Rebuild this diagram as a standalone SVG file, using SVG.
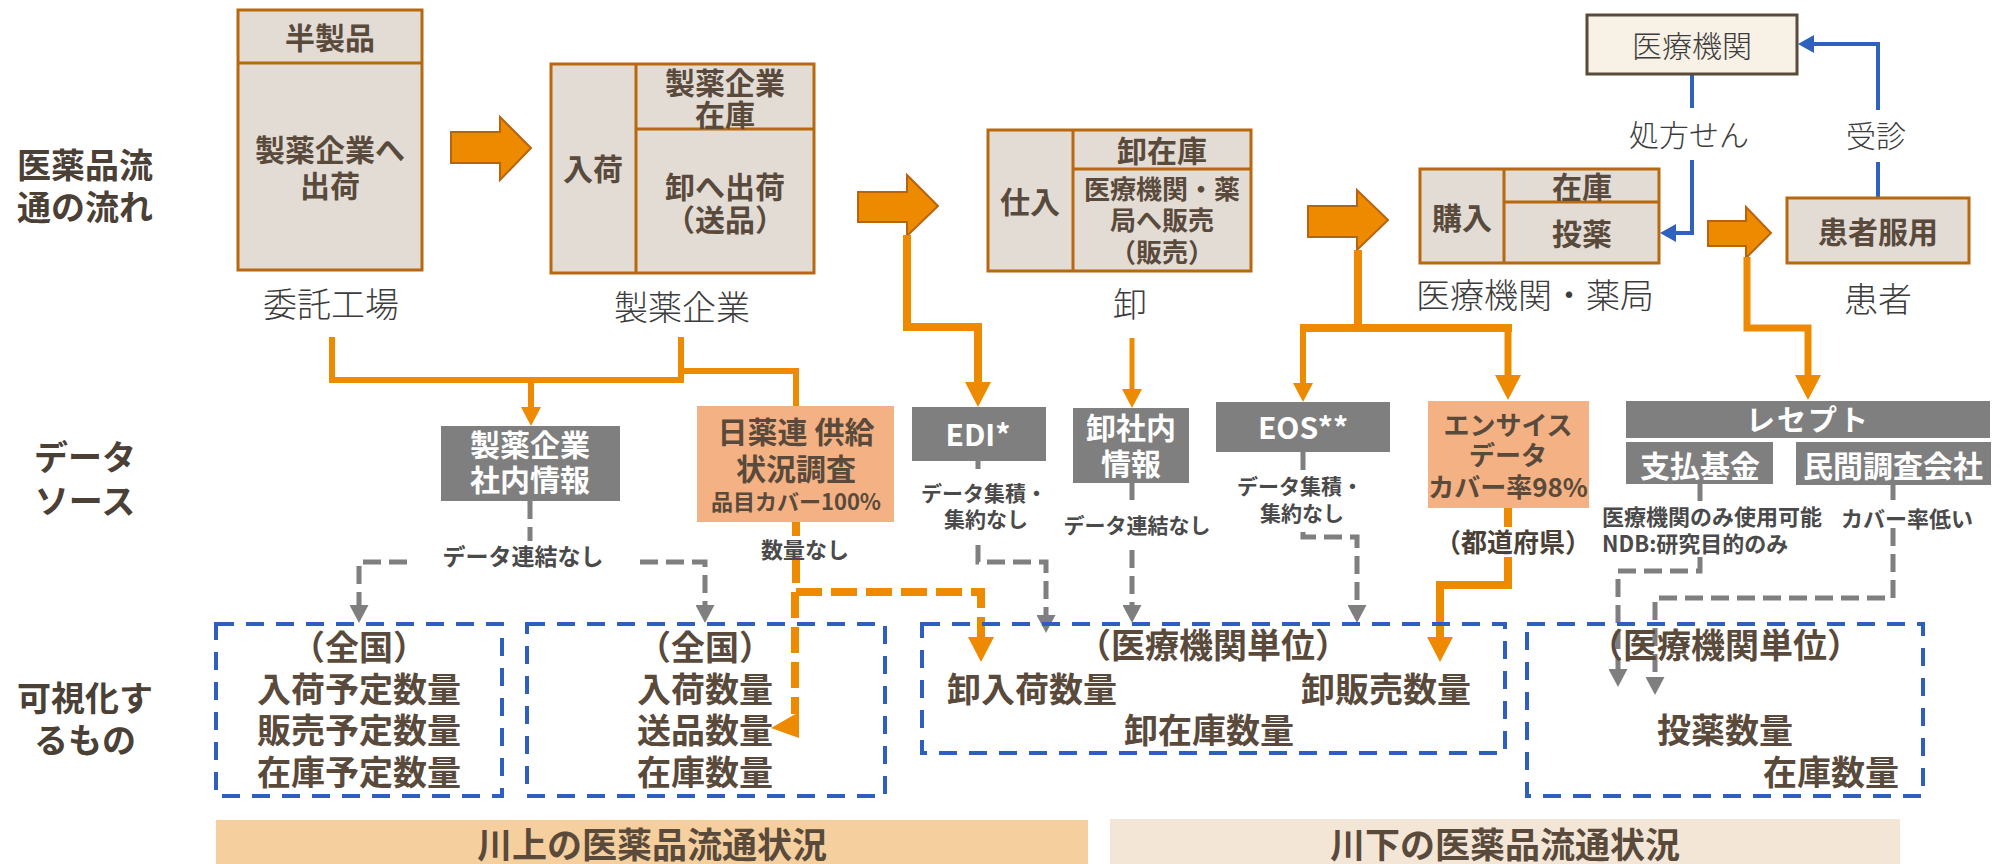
<svg xmlns="http://www.w3.org/2000/svg" width="2005" height="864" viewBox="0 0 2005 864">
<defs>
<style>
.t{font-family:'Noto Sans CJK JP','Noto Sans',sans-serif;text-anchor:middle;dominant-baseline:central;}
.t tspan{dominant-baseline:central;}
.bx{fill:#E2DCD5;stroke:#B8690F;stroke-width:3;}
.dv{stroke:#B8690F;stroke-width:3;}
.bt{font-size:30px;font-weight:700;fill:#594A3B;}
.bs{font-size:26px;font-weight:700;fill:#594A3B;}
.lbl{font-size:34px;font-weight:300;fill:#3C3C3C;}
.side{font-size:34px;font-weight:700;fill:#4A4036;}
.gb{fill:#7F7F7F;}
.ob{fill:#F4B183;}
.wt{fill:#FFFFFF;font-weight:700;font-size:30px;}
.note{font-weight:700;fill:#4A4A4A;}
.vb{fill:none;stroke:#2F5FBE;stroke-width:4;stroke-dasharray:18 12;}
.vt{font-size:34px;font-weight:700;fill:#594A3B;}
.arr{fill:#EE8A00;stroke:#B8640F;stroke-width:2;}
.ol{fill:none;stroke:#EE8A00;stroke-width:7;}
.od{fill:none;stroke:#EE8A00;stroke-width:8;stroke-dasharray:26 9;}
.gl{fill:none;stroke:#7F7F7F;stroke-width:5;stroke-dasharray:18 8;}
.bl{fill:none;stroke:#2F62BE;stroke-width:4;}
</style>
<marker id="oaL" markerUnits="userSpaceOnUse" markerWidth="26" markerHeight="26" viewBox="0 0 26 26" refX="0" refY="13" orient="auto"><path d="M0,0 L25,13 L0,26 Z" fill="#EE8A00"/></marker>
<marker id="oaS" markerUnits="userSpaceOnUse" markerWidth="20" markerHeight="20" viewBox="0 0 20 20" refX="0" refY="10" orient="auto"><path d="M0,0 L19,10 L0,20 Z" fill="#EE8A00"/></marker>
<marker id="ga" markerUnits="userSpaceOnUse" markerWidth="19" markerHeight="19" viewBox="0 0 19 19" refX="0" refY="9.5" orient="auto"><path d="M0,0 L18,9.5 L0,19 Z" fill="#7F7F7F"/></marker>
<marker id="ba" markerUnits="userSpaceOnUse" markerWidth="17" markerHeight="18" viewBox="0 0 17 18" refX="0" refY="9" orient="auto"><path d="M0,0 L16,9 L0,18 Z" fill="#2F62BE"/></marker>
</defs>
<rect x="0" y="0" width="2005" height="864" fill="#FFFFFF"/>

<g id="row-labels">
<text class="t side"><tspan x="85" y="163">医薬品流</tspan><tspan x="85" y="205">通の流れ</tspan></text>
<text class="t side"><tspan x="85" y="455">データ</tspan><tspan x="85" y="499">ソース</tspan></text>
<text class="t side"><tspan x="85" y="696">可視化す</tspan><tspan x="85" y="738">るもの</tspan></text>
</g>

<g id="bands">
<g id="band-upstream">
<rect x="216" y="820" width="872" height="44" fill="#F5D09E"/>
<text class="t" x="652" y="842" style="font-size:35px;font-weight:700;fill:#594A3B">川上の医薬品流通状況</text>
</g>
<g id="band-downstream">
<rect x="1110" y="819" width="790" height="45" fill="#F3E6D6"/>
<text class="t" x="1505" y="842" style="font-size:35px;font-weight:700;fill:#594A3B">川下の医薬品流通状況</text>
</g>
</g>

<g id="connectors">
<polygon class="arr" points="451,132 500,132 500,117 531,148 500,180 500,163 451,163"/>
<polygon class="arr" points="858,192 907,192 907,175 938,206 907,236 907,222 858,222"/>
<polygon class="arr" points="1308,206 1357,206 1357,190 1388,220 1357,250 1357,237 1308,237"/>
<polygon class="arr" points="1708,221 1746,221 1746,207 1771,233 1746,258 1746,246 1708,246"/>

<path class="ol" style="stroke-width:6" d="M332,337 V380 H684 M681,337 V383 M681,371 H796 V406"/>
<path class="ol" style="stroke-width:6" d="M531,380 V407" marker-end="url(#oaS)"/>
<path class="ol" style="stroke-width:8" d="M907,235 V327 H978 V382" marker-end="url(#oaL)"/>
<path class="ol" style="stroke-width:5" d="M1132,338 V389" marker-end="url(#oaS)"/>
<path class="ol" style="stroke-width:8" d="M1358,250 V328 M1300,328 H1512"/>
<path class="ol" style="stroke-width:6" d="M1303,328 V383" marker-end="url(#oaS)"/>
<path class="ol" style="stroke-width:7" d="M1508,328 V375" marker-end="url(#oaL)"/>
<path class="ol" style="stroke-width:7" d="M1747,257 V328 H1808 V375" marker-end="url(#oaL)"/>
<path class="ol" style="stroke-width:8" d="M1508,508 V527"/>
<path class="ol" style="stroke-width:8" d="M1508,557 V585 H1440 V637" marker-end="url(#oaL)"/>

<path class="ol" style="stroke-width:8" d="M796,522 V536"/>
<path class="od" d="M796,557 V592 H981 V637" marker-end="url(#oaL)"/>
<path class="od" d="M795,592 V714"/>
<polygon points="799,712 799,738 771,728" fill="#EE8A00"/>

<path class="gl" d="M530,501 V541"/>
<path class="gl" d="M407,562 H359 V605" marker-end="url(#ga)"/>
<path class="gl" d="M640,562 H705 V605" marker-end="url(#ga)"/>
<path class="gl" d="M978,461 V469"/>
<path class="gl" d="M978,545 V562 H1046 V615" marker-end="url(#ga)"/>
<path class="gl" d="M1132,483 V500"/>
<path class="gl" d="M1132,550 V605" marker-end="url(#ga)"/>
<path class="gl" d="M1303,452 V472"/>
<path class="gl" d="M1303,532 V537 H1357 V605" marker-end="url(#ga)"/>
<path class="gl" d="M1700,484 V501"/>
<path class="gl" d="M1700,557 V571 H1618 V669" marker-end="url(#ga)"/>
<path class="gl" d="M1893,485 V500"/>
<path class="gl" d="M1893,528 V598 H1655 V677" marker-end="url(#ga)"/>

<path class="bl" d="M1692,74 V108"/>
<path class="bl" d="M1692,160 V233 H1676" marker-end="url(#ba)"/>
<path class="bl" d="M1878,198 V162"/>
<path class="bl" d="M1878,110 V44 H1814" marker-end="url(#ba)"/>
</g>

<g id="edge-labels">
<text class="t" x="1689" y="133" style="font-size:30px;font-weight:300;fill:#3C3C3C">処方せん</text>
<text class="t" x="1876" y="134" style="font-size:30px;font-weight:300;fill:#3C3C3C">受診</text>
<text class="t note" x="523" y="555" style="font-size:23px">データ連結なし</text>
<text class="t note" x="805" y="548" style="font-size:22px">数量なし</text>
<text class="t note" style="font-size:21px"><tspan x="984" y="492">データ集積・</tspan><tspan x="986" y="518">集約なし</tspan></text>
<text class="t note" x="1137" y="524" style="font-size:21px">データ連結なし</text>
<text class="t note" style="font-size:21px"><tspan x="1300" y="485">データ集積・</tspan><tspan x="1302" y="512">集約なし</tspan></text>
<text class="t note" x="1513" y="540" style="font-size:26px;fill:#4A4036">（都道府県）</text>
<text class="t note" style="font-size:22px;text-anchor:start"><tspan x="1602" y="515">医療機関のみ使用可能</tspan><tspan x="1602" y="542">NDB:研究目的のみ</tspan></text>
<text class="t note" x="1907" y="517" style="font-size:22px">カバー率低い</text>
</g>

<g id="n-itaku">
<rect class="bx" x="238" y="10" width="184" height="260"/>
<line class="dv" x1="238" y1="63" x2="422" y2="63"/>
<text class="t bt" x="330" y="36">半製品</text>
<text class="t bt"><tspan x="330" y="148">製薬企業へ</tspan><tspan x="330" y="184">出荷</tspan></text>
<text class="t lbl" x="331" y="302">委託工場</text>
</g>

<g id="n-seiyaku">
<rect class="bx" x="551" y="64" width="263" height="209"/>
<line class="dv" x1="636" y1="64" x2="636" y2="273"/>
<line class="dv" x1="636" y1="129" x2="814" y2="129"/>
<text class="t bt" x="593" y="167">入荷</text>
<text class="t bt"><tspan x="725" y="81">製薬企業</tspan><tspan x="725" y="113">在庫</tspan></text>
<text class="t bt"><tspan x="725" y="185">卸へ出荷</tspan><tspan x="725" y="218">（送品）</tspan></text>
<text class="t lbl" x="682" y="305">製薬企業</text>
</g>

<g id="n-oroshi">
<rect class="bx" x="988" y="130" width="263" height="141"/>
<line class="dv" x1="1073" y1="130" x2="1073" y2="271"/>
<line class="dv" x1="1073" y1="169" x2="1251" y2="169"/>
<text class="t bt" x="1030" y="200">仕入</text>
<text class="t bt" x="1162" y="149">卸在庫</text>
<text class="t bs"><tspan x="1162" y="187">医療機関・薬</tspan><tspan x="1162" y="218">局へ販売</tspan><tspan x="1162" y="250">（販売）</tspan></text>
<text class="t lbl" x="1130" y="302">卸</text>
</g>

<g id="n-iryo-yakkyoku">
<rect class="bx" x="1420" y="169" width="239" height="94"/>
<line class="dv" x1="1504" y1="169" x2="1504" y2="263"/>
<line class="dv" x1="1504" y1="202" x2="1659" y2="202"/>
<text class="t bt" x="1462" y="216">購入</text>
<text class="t bt" x="1582" y="185">在庫</text>
<text class="t bt" x="1582" y="232">投薬</text>
<text class="t lbl" x="1535" y="293">医療機関・薬局</text>
</g>

<g id="n-kanja">
<rect class="bx" x="1787" y="198" width="182" height="65"/>
<text class="t bt" x="1878" y="230">患者服用</text>
<text class="t lbl" x="1878" y="297">患者</text>
</g>

<g id="n-iryokikan">
<rect x="1587" y="15" width="210" height="59" fill="#F8F1E6" stroke="#5A4A3A" stroke-width="3"/>
<text class="t" x="1692" y="44" style="font-size:30px;font-weight:300;fill:#3C3C3C">医療機関</text>
</g>

<g id="ds-seiyaku-shanai">
<rect class="gb" x="441" y="426" width="179" height="75"/>
<text class="t wt"><tspan x="530" y="443">製薬企業</tspan><tspan x="530" y="478">社内情報</tspan></text>
</g>

<g id="ds-nichiyakuren">
<rect class="ob" x="697" y="406" width="197" height="116"/>
<text class="t bt"><tspan x="796" y="430">日薬連 供給</tspan><tspan x="796" y="467">状況調査</tspan><tspan x="796" y="500" style="font-size:22px">品目カバー100%</tspan></text>
</g>

<g id="ds-edi">
<rect class="gb" x="912" y="407" width="134" height="54"/>
<text class="t wt" x="978" y="433">EDI*</text>
</g>

<g id="ds-oroshi-shanai">
<rect class="gb" x="1073" y="408" width="116" height="75"/>
<text class="t wt"><tspan x="1131" y="426">卸社内</tspan><tspan x="1131" y="462">情報</tspan></text>
</g>

<g id="ds-eos">
<rect class="gb" x="1216" y="402" width="174" height="50"/>
<text class="t wt" x="1303" y="426">EOS**</text>
</g>

<g id="ds-encise">
<rect class="ob" x="1428" y="401" width="161" height="107"/>
<text class="t bs"><tspan x="1508" y="423">エンサイス</tspan><tspan x="1508" y="453">データ</tspan><tspan x="1508" y="485">カバー率98%</tspan></text>
</g>

<g id="ds-receipt">
<rect class="gb" x="1626" y="401" width="364" height="37"/>
<text class="t wt" x="1808" y="418" style="font-size:29px;letter-spacing:2px">レセプト</text>
</g>

<g id="ds-shiharai">
<rect class="gb" x="1626" y="442" width="147" height="42"/>
<text class="t wt" x="1700" y="464">支払基金</text>
</g>

<g id="ds-minkan">
<rect class="gb" x="1796" y="442" width="195" height="43"/>
<text class="t wt" x="1893" y="464">民間調査会社</text>
</g>

<g id="v-maker-plan">
<rect class="vb" x="216" y="624" width="286" height="172"/>
<text class="t vt"><tspan x="359" y="645">（全国）</tspan><tspan x="359" y="687">入荷予定数量</tspan><tspan x="359" y="728">販売予定数量</tspan><tspan x="359" y="770">在庫予定数量</tspan></text>
</g>

<g id="v-maker">
<rect class="vb" x="527" y="624" width="358" height="172"/>
<text class="t vt"><tspan x="705" y="645">（全国）</tspan><tspan x="705" y="687">入荷数量</tspan><tspan x="705" y="728">送品数量</tspan><tspan x="705" y="770">在庫数量</tspan></text>
</g>

<g id="v-oroshi">
<rect class="vb" x="922" y="624" width="583" height="129"/>
<text class="t vt"><tspan x="1213" y="643">（医療機関単位）</tspan><tspan x="1032" y="687">卸入荷数量</tspan><tspan x="1386" y="687">卸販売数量</tspan><tspan x="1209" y="728">卸在庫数量</tspan></text>
</g>

<g id="v-iryo">
<rect class="vb" x="1527" y="624" width="396" height="172"/>
<text class="t vt"><tspan x="1725" y="643">（医療機関単位）</tspan><tspan x="1725" y="728">投薬数量</tspan><tspan x="1831" y="770">在庫数量</tspan></text>
</g>
</svg>
